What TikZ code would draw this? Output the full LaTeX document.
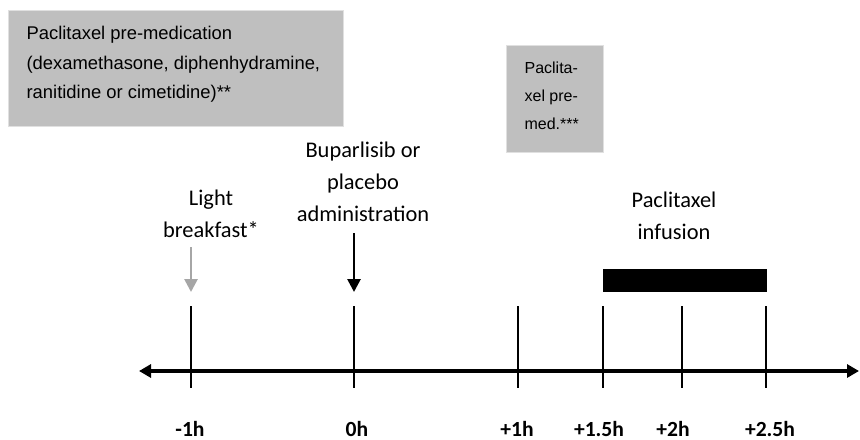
\documentclass[tikz,border=0pt]{standalone}
\usepackage{fontspec}
\setmainfont{Carlito}
\newfontfamily\arialFont{Liberation Sans}
\usetikzlibrary{arrows.meta,positioning}
\tikzset{
	boxGrey/.style={
		draw=black!12,
		fill=black!25,
		line width=0.6pt,
		inner xsep=9pt,
		inner ysep=8pt,
		anchor=north west,
		font=\arialFont
	},
	timeTick/.style={
		line width=0.75pt
	},
	timeLabel/.style={
		font=\fontsize{10.8}{13}\selectfont\bfseries,
		anchor=base
	},
	eventLabel/.style={
		align=center,
		font=\fontsize{11.2}{16}\selectfont
	},
}
\begin{document}
\begin{tikzpicture}[x=0.5pt, y=-0.5pt
    ,   axisLine/.style={line width=1.7pt, {Triangle[length=6pt, width=6.5pt]}-{Triangle[length=6pt, width=6.5pt]}}
    ,   doseArrow/.style={line width=1.35pt, -{Triangle[length=6.5pt, width=6.5pt]}}]
\useasboundingbox (0,0) rectangle (860,439);

% pre-medication boxes
\node[boxGrey] (premedBox) at (8,10)
    {\parbox[t][42pt][t]{149.5pt}{\fontsize{9.2}{14.75}\selectfont
    Paclitaxel pre-medication\\(dexamethasone, diphenhydramine,\\ranitidine or cimetidine)**}};
\node[boxGrey] (premedSmall) at (506,45)
    {\parbox[t][37.5pt][t]{30.5pt}{\fontsize{8}{14}\selectfont
    Paclita-\\xel pre-\\med.***}};

% time axis
\coordinate (axisL) at (139,371);
\coordinate (axisR) at (859,371);
\draw[axisLine] (axisL) -- (axisR);

\foreach \nm/\xx/\lx/\lbl in {m1/191/190/-1h, z/354/357/0h, p1/518/517/+1h,
        p15/603/599/+1.5h, p2/682/673/+2h, p25/766/770/+2.5h}{
    \coordinate (tickTop\nm) at (\xx,306);
    \coordinate (tickBot\nm) at (\xx,388);
    \draw[timeTick] (tickTop\nm) -- (tickBot\nm);
    \node[timeLabel] (lbl\nm) at (\lx,436) {\lbl};
}

% events
\node[eventLabel] (breakfast) at (211,214) {Light\\breakfast*};
\node[eventLabel] (drugAdmin) at (363,182) {Buparlisib or\\placebo\\administration};
\node[eventLabel] (infusion) at (674,216) {Paclitaxel\\infusion};

\coordinate (breakfastTop) at (191,247);
\coordinate (breakfastTip) at (191,292);
\coordinate (drugTop) at (354,233);
\coordinate (drugTip) at (354,292);
\draw[doseArrow, black!35] (breakfastTop) -- (breakfastTip);
\draw[doseArrow, black] (drugTop) -- (drugTip);

\node[fill=black, inner sep=0pt, minimum width=82pt, minimum height=11.5pt, anchor=north west] (infusionBar) at (603,269) {};

\end{tikzpicture}
\end{document}
